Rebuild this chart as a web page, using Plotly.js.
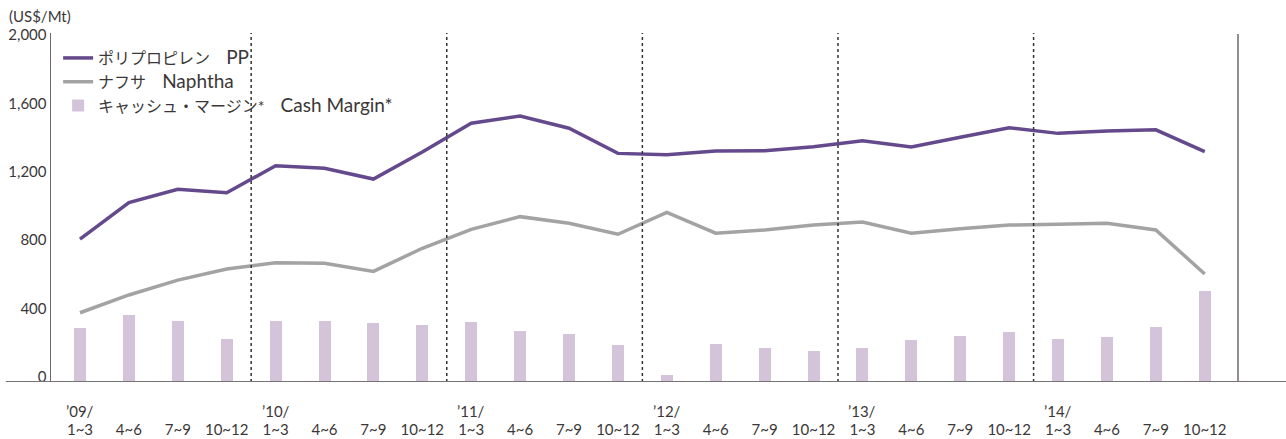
<!DOCTYPE html>
<html>
<head>
<meta charset="utf-8">
<script src="https://cdn.plot.ly/plotly-3.0.1.min.js"></script>
<style>html,body{margin:0;padding:0;background:#fff;}#chart{width:1286px;height:439px;}</style>
</head>
<body>
<div id="chart"></div>
<script>
// Quarter categories (index positions on the x axis)
const quarterLabels = ["1~3","4~6","7~9","10~12","1~3","4~6","7~9","10~12","1~3","4~6","7~9","10~12",
                       "1~3","4~6","7~9","10~12","1~3","4~6","7~9","10~12","1~3","4~6","7~9","10~12"];
const yearLabels = ["’09/","’10/","’11/","’12/","’13/","’14/"];
const yearStartIndex = [0,4,8,12,16,20];

// Series values (US$/Mt)
const ppValues = [835,1049,1127,1107,1265,1250,1187,1345,1513,1556,1484,1337,
                  1329,1351,1353,1376,1411,1374,1431,1487,1454,1468,1475,1347];
const naphthaValues = [405,509,596,661,698,694,647,782,893,967,928,864,
                       992,870,889,918,936,870,896,918,922,928,889,632];
const cashMarginValues = [314,392,357,251,357,357,345,333,351,298,281,216,
                          41,222,199,181,199,246,269,292,251,263,322,532];

const yTicks = [0,400,800,1200,1600,2000];
const yTickText = ["0","400","800","1,200","1,600","2,000"];

const seriesJa = ["ポリプロピレン", "ナフサ", "キャッシュ・マージン*"];
const seriesEn = ["PP", "Naphtha", "Cash Margin*"];
const legendName = k => seriesJa[k] + "\u3000<span style='font-size:19px'>" + seriesEn[k] + "</span>";

const xIdx = quarterLabels.map((_, i) => i);
const FONT = "Lato, 'Noto Sans CJK JP', sans-serif";
const TXT = "#3b3738";

const traces = [
  {type: "bar", x: xIdx, y: cashMarginValues, name: legendName(2), width: 0.245,
   marker: {color: "#d3c4da", line: {width: 0}}, legendrank: 3},
  {type: "scatter", mode: "lines", x: xIdx, y: naphthaValues, name: legendName(1),
   line: {color: "#a3a3a3", width: 3.5}, legendrank: 2},
  {type: "scatter", mode: "lines", x: xIdx, y: ppValues, name: legendName(0),
   line: {color: "#644a8c", width: 3.5}, legendrank: 1}
];

const shapes = [];
// year separators (dotted)
[3.5, 7.5, 11.5, 15.5, 19.5].forEach(xv => {
  shapes.push({type: "line", xref: "x", yref: "paper", x0: xv, x1: xv, y0: 0, y1: 1,
               line: {color: "#333", width: 1.5, dash: "dot"}, layer: "above"});
});
// right frame line
shapes.push({type: "line", xref: "paper", yref: "paper", x0: 1, x1: 1, y0: 0, y1: 0.997,
             line: {color: "#6e6869", width: 1.5}});
// baseline
shapes.push({type: "line", xref: "paper", yref: "y", x0: -0.038, x1: 1.041, y0: 0, y1: 0,
             line: {color: "#777273", width: 2}, layer: "above"});

const annotations = yearLabels.map((t, k) => ({
  text: t, x: yearStartIndex[k], xref: "x", y: -0.083, yref: "paper",
  xanchor: "center", yanchor: "middle", showarrow: false,
  font: {family: FONT, size: 15, color: TXT}
}));
annotations.push({text: "(US$/Mt)", x: 0, xref: "paper", xanchor: "left", xshift: -44,
  y: 1.049, yref: "paper", yanchor: "middle", showarrow: false,
  font: {family: FONT, size: 15, color: TXT}});

const layout = {
  width: 1286, height: 439,
  margin: {l: 51, r: 48, t: 33, b: 57, pad: 0},
  paper_bgcolor: "#fff", plot_bgcolor: "#fff",
  font: {family: FONT, color: TXT, size: 15},
  showlegend: true,
  legend: {x: 0.006, y: 0.977, xanchor: "left", yanchor: "top", bgcolor: "rgba(0,0,0,0)",
           font: {family: FONT, size: 16, color: TXT}, tracegroupgap: 0},
  bargap: 0,
  xaxis: {range: [-0.593, 23.68], tickmode: "array", tickvals: xIdx, ticktext: quarterLabels,
          showgrid: false, zeroline: false, showline: false, ticks: "",
          ticklabelstandoff: 37, tickfont: {family: FONT, size: 15, color: TXT}, fixedrange: true},
  yaxis: {range: [0, 2041], tickmode: "array", tickvals: yTicks, ticktext: yTickText,
          showgrid: false, zeroline: false, showline: true, linecolor: "#6e6869", linewidth: 1.5,
          ticks: "", ticklabelstandoff: 0, ticklabelshift: -5,
          tickfont: {family: FONT, size: 15, color: TXT}, fixedrange: true},
  shapes: shapes,
  annotations: annotations
};

Plotly.newPlot("chart", traces, layout, {displayModeBar: false, staticPlot: true});
</script>
</body>
</html>
